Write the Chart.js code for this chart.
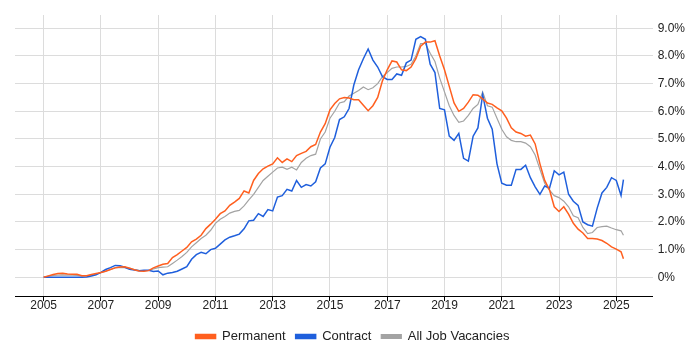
<!DOCTYPE html>
<html>
<head>
<meta charset="utf-8">
<script src="https://cdn.jsdelivr.net/npm/chart.js@4/dist/chart.umd.min.js"></script>
<style>
  html, body { margin: 0; padding: 0; background: #fff; }
  #wrap { width: 700px; height: 350px; }
</style>
</head>
<body>
<div id="wrap"><canvas id="chartTrend"></canvas></div>
<script>
// Bi-monthly sample dates (YYYY-MM)
const periods = [
  '2005-01','2005-03','2005-05','2005-07','2005-09','2005-11',
  '2006-01','2006-03','2006-05','2006-07','2006-09','2006-11',
  '2007-01','2007-03','2007-05','2007-07','2007-09','2007-11',
  '2008-01','2008-03','2008-05','2008-07','2008-09','2008-11',
  '2009-01','2009-03','2009-05','2009-07','2009-09','2009-11',
  '2010-01','2010-03','2010-05','2010-07','2010-09','2010-11',
  '2011-01','2011-03','2011-05','2011-07','2011-09','2011-11',
  '2012-01','2012-03','2012-05','2012-07','2012-09','2012-11',
  '2013-01','2013-03','2013-05','2013-07','2013-09','2013-11',
  '2014-01','2014-03','2014-05','2014-07','2014-09','2014-11',
  '2015-01','2015-03','2015-05','2015-07','2015-09','2015-11',
  '2016-01','2016-03','2016-05','2016-07','2016-09','2016-11',
  '2017-01','2017-03','2017-05','2017-07','2017-09','2017-11',
  '2018-01','2018-03','2018-05','2018-07','2018-09','2018-11',
  '2019-01','2019-03','2019-05','2019-07','2019-09','2019-11',
  '2020-01','2020-03','2020-05','2020-07','2020-09','2020-11',
  '2021-01','2021-03','2021-05','2021-07','2021-09','2021-11',
  '2022-01','2022-03','2022-05','2022-07','2022-09','2022-11',
  '2023-01','2023-03','2023-05','2023-07','2023-09','2023-11',
  '2024-01','2024-03','2024-05','2024-07','2024-09','2024-11',
  '2025-01','2025-03','2025-04'
];

// % of vacancies
const permanent = [
  0.00, 0.05, 0.10, 0.14, 0.15, 0.12,
  0.11, 0.11, 0.06, 0.06, 0.10, 0.14,
  0.17, 0.22, 0.28, 0.34, 0.37, 0.38,
  0.33, 0.27, 0.23, 0.22, 0.24, 0.34,
  0.41, 0.47, 0.50, 0.71, 0.82, 0.95,
  1.08, 1.28, 1.38, 1.52, 1.76, 1.92,
  2.10, 2.30, 2.40, 2.60, 2.72, 2.85,
  3.12, 3.05, 3.50, 3.75, 3.92, 4.02,
  4.10, 4.32, 4.15, 4.28, 4.18, 4.40,
  4.48, 4.55, 4.72, 4.80, 5.25, 5.55,
  6.05, 6.28, 6.45, 6.50, 6.48, 6.42,
  6.42, 6.22, 6.02, 6.20, 6.50, 7.10,
  7.50, 7.82, 7.78, 7.50, 7.47, 7.60,
  7.90, 8.35, 8.50, 8.50, 8.55, 8.00,
  7.50, 6.90, 6.30, 6.00, 6.10, 6.33,
  6.60, 6.58, 6.45, 6.30, 6.25, 6.12,
  6.02, 5.75, 5.40, 5.25, 5.20, 5.10,
  5.14, 4.82, 4.10, 3.50, 3.16, 2.55,
  2.38, 2.55, 2.28, 1.95, 1.74, 1.60,
  1.40, 1.40, 1.38, 1.33, 1.23, 1.10,
  1.02, 0.92, 0.67
];

const contract = [
  0.00, 0.00, 0.00, 0.00, 0.00, 0.00,
  0.00, 0.00, 0.00, 0.01, 0.05, 0.09,
  0.18, 0.28, 0.35, 0.43, 0.42, 0.36,
  0.29, 0.26, 0.24, 0.25, 0.25, 0.21,
  0.23, 0.09, 0.15, 0.17, 0.22, 0.30,
  0.38, 0.65, 0.82, 0.90, 0.85, 1.00,
  1.05, 1.20, 1.35, 1.45, 1.50, 1.56,
  1.75, 2.04, 2.06, 2.30, 2.20, 2.45,
  2.40, 2.90, 2.95, 3.18, 3.12, 3.50,
  3.25, 3.35, 3.30, 3.45, 3.95, 4.10,
  4.70, 5.05, 5.70, 5.80, 6.10, 6.95,
  7.50, 7.90, 8.25, 7.85, 7.60, 7.25,
  7.15, 7.15, 7.35, 7.30, 7.75, 7.85,
  8.60, 8.70, 8.60, 7.70, 7.40, 6.10,
  6.05, 5.10, 4.95, 5.20, 4.30, 4.20,
  5.10, 5.40, 6.60, 5.75, 5.35, 4.10,
  3.40, 3.33, 3.33, 3.90, 3.90, 4.05,
  3.60, 3.27, 3.00, 3.30, 3.22, 3.85,
  3.70, 3.80, 3.00, 2.75, 2.60, 2.00,
  1.90, 1.85, 2.50, 3.05, 3.25, 3.60,
  3.50, 2.96, 3.53
];

const allJobs = [
  0.00, 0.04, 0.07, 0.08, 0.09, 0.08,
  0.08, 0.07, 0.05, 0.05, 0.08, 0.12,
  0.17, 0.22, 0.28, 0.35, 0.36, 0.35,
  0.33, 0.28, 0.25, 0.23, 0.25, 0.30,
  0.35, 0.37, 0.38, 0.50, 0.62, 0.75,
  0.90, 1.10, 1.25, 1.40, 1.52, 1.70,
  1.95, 2.10, 2.20, 2.32, 2.38, 2.42,
  2.58, 2.80, 3.00, 3.25, 3.50, 3.65,
  3.80, 3.95, 3.98, 3.90, 3.98, 3.88,
  4.15, 4.30, 4.40, 4.45, 5.00, 5.25,
  5.75, 6.00, 6.30, 6.35, 6.55, 6.65,
  6.75, 6.88, 6.78, 6.85, 7.00, 7.25,
  7.40, 7.55, 7.60, 7.60, 7.62, 7.70,
  8.00, 8.45, 8.45, 8.10, 7.80, 7.20,
  6.70, 6.20, 5.85, 5.60, 5.65, 5.85,
  6.10, 6.25, 6.70, 6.20, 6.15, 5.75,
  5.35, 5.08, 4.95, 4.90, 4.90, 4.85,
  4.72, 4.42, 3.90, 3.40, 3.15, 2.95,
  2.88, 2.75, 2.55, 2.22, 2.15, 1.80,
  1.58, 1.62, 1.80, 1.83, 1.85, 1.78,
  1.72, 1.68, 1.52
];

const yearTicks = [2005, 2007, 2009, 2011, 2013, 2015, 2017, 2019, 2021, 2023, 2025];
const pctTicks = [0, 1, 2, 3, 4, 5, 6, 7, 8, 9];

Chart.defaults.font.family = "'Liberation Sans', Arial, sans-serif";
Chart.defaults.color = '#333';

// "2013-05" -> 2013.333
function toYear(p) {
    const [y, m] = p.split('-').map(Number);
    return y + (m - 1) / 12;
}

function toPoints(values) {
    return values.map((v, i) => ({ x: toYear(periods[i]), y: v }));
}

const ctx = document.getElementById('chartTrend');
new Chart(ctx, {
    type: 'line',
    data: {
        datasets: [
            { label: 'Permanent', data: toPoints(permanent), borderColor: '#ff5f1f', backgroundColor: '#ff5f1f', borderWidth: 1.5 },
            { label: 'Contract', data: toPoints(contract), borderColor: '#1f5fdc', backgroundColor: '#1f5fdc', borderWidth: 1.5 },
            { label: 'All Job Vacancies', data: toPoints(allJobs), borderColor: '#a3a3a3', backgroundColor: '#a3a3a3', borderWidth: 1.2 }
        ]
    },
    options: {
        responsive: true,
        maintainAspectRatio: false,
        animation: false,
        layout: { padding: { left: 15, right: 10, top: 15, bottom: -3 } },
        elements: { point: { radius: 0 }, line: { tension: 0 } },
        scales: {
            x: {
                type: 'linear',
                min: 2004.0,
                max: 2026.27,
                afterBuildTicks: axis => { axis.ticks = yearTicks.map(v => ({ value: v })); },
                afterFit: axis => { axis.height += 9.5; },
                ticks: { font: { size: 12 }, color: '#222', padding: -2.5, callback: v => String(v) },
                grid: { color: '#dcdcdc', tickColor: '#000', tickLength: 5 },
                border: { display: true, color: '#000', width: 1 }
            },
            y: {
                position: 'right',
                min: -0.68,
                max: 9.48,
                afterBuildTicks: axis => { axis.ticks = pctTicks.map(v => ({ value: v })); },
                ticks: { font: { size: 12 }, color: '#222', padding: 5, callback: v => v === 0 ? '0%' : v.toFixed(1) + '%' },
                grid: { color: '#dcdcdc', drawTicks: false },
                border: { display: false }
            }
        },
        plugins: {
            tooltip: { enabled: false },
            legend: {
                position: 'bottom',
                labels: { boxWidth: 20, boxHeight: 4, padding: 10, color: '#222', font: { size: 13 } }
            }
        }
    }
});
</script>
</body>
</html>
